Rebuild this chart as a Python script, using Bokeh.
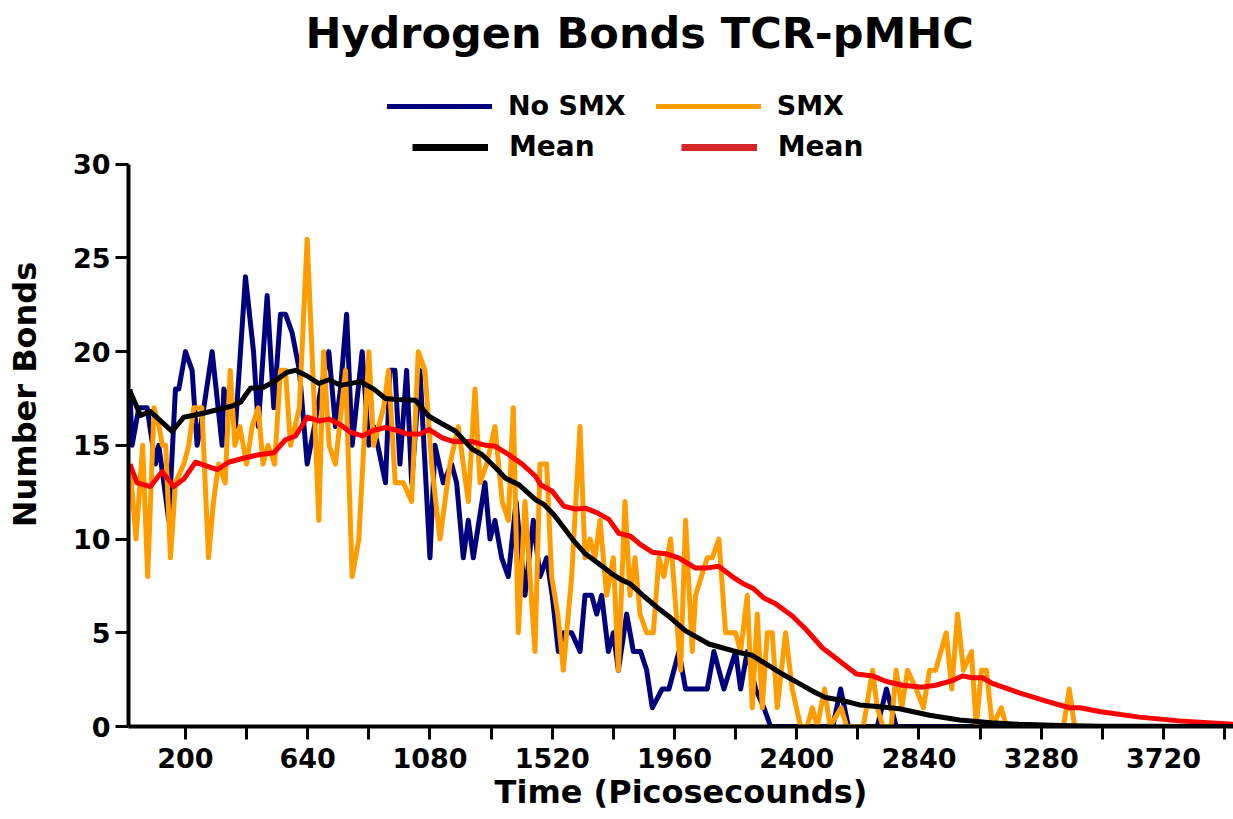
from bokeh.plotting import figure
from bokeh.models import Legend, LegendItem, FixedTicker, Range1d
from bokeh.embed import file_html
from bokeh.resources import INLINE

# ---------------- data ----------------
no_smx_t = [0, 8, 32, 62, 92, 104, 140, 164, 176, 200,
            224, 242, 266, 296, 332, 338, 380, 416, 445, 462,
            494, 518, 542, 560, 584, 610, 638, 664, 687, 716,
            740, 758, 780, 800, 836, 860, 878, 920, 936, 954,
            972, 996, 1014, 1044, 1080, 1098, 1128, 1158, 1176, 1200,
            1218, 1236, 1278, 1296, 1314, 1338, 1362, 1390, 1422, 1452,
            1476, 1500, 1520, 1542, 1560, 1590, 1620, 1638, 1662, 1680,
            1698, 1722, 1740, 1758, 1788, 1812, 1838, 1860, 1880, 1916,
            1940, 1976, 2000, 2078, 2102, 2138, 2180, 2198, 2222, 2252,
            2282, 2306, 2530, 2558, 2586, 2690, 2723, 2758, 3140]
no_smx_v = [18, 15, 17, 17, 14, 15, 11, 18, 18, 20,
            19, 15, 17, 20, 15, 18, 16, 24, 20, 16,
            23, 17, 22, 22, 21, 19, 14, 16, 18, 20,
            16, 18, 22, 15, 20, 15, 16, 13, 19, 19,
            14, 19, 13, 19, 9, 15, 13, 14, 13, 9,
            11, 9, 13, 10, 11, 9, 8, 12, 7, 11,
            8, 9, 7, 4, 5, 5, 4, 7, 7, 6,
            7, 4, 5, 3, 6, 4, 4, 3, 1, 2,
            2, 4, 2, 2, 4, 2, 4, 2, 4, 2,
            1, 0, 0, 2, 0, 0, 2, 0, 0]

smx_t = [0, 22, 46, 64, 87, 105, 117, 129, 146, 164,
         194, 212, 230, 259, 283, 301, 319, 343, 361, 378,
         396, 420, 440, 462, 479, 497, 521, 542, 560, 578,
         610, 638, 664, 680, 697, 717, 740, 776, 800, 824,
         860, 877, 913, 931, 955, 984, 1014, 1038, 1062, 1086,
         1116, 1152, 1182, 1218, 1242, 1260, 1284, 1314, 1340, 1362,
         1380, 1398, 1422, 1458, 1476, 1500, 1518, 1540, 1560, 1590,
         1620, 1638, 1656, 1674, 1692, 1716, 1740, 1758, 1782, 1800,
         1818, 1836, 1860, 1884, 1904, 1922, 1946, 1982, 2000, 2024,
         2036, 2078, 2096, 2120, 2144, 2180, 2198, 2222, 2240, 2258,
         2276, 2294, 2312, 2330, 2360, 2384, 2414, 2438, 2456, 2474,
         2500, 2520, 2560, 2580, 2640, 2673, 2690, 2710, 2740, 2758,
         2778, 2799, 2830, 2856, 2878, 2900, 2938, 2958, 2979, 3000,
         3029, 3046, 3065, 3083, 3104, 3136, 3155, 3360, 3381, 3400]
smx_v = [14, 10, 15, 8, 17, 16, 15, 15, 9, 13,
         14, 15, 17, 17, 9, 12, 14, 13, 19, 15,
         16, 14, 16, 17, 14, 15, 14, 19, 19, 15,
         17, 26, 17, 11, 20, 15, 14, 19, 8, 10,
         20, 15, 17, 19, 13, 13, 12, 20, 19, 14,
         10, 14, 16, 12, 18, 13, 14, 16, 12, 11,
         17, 5, 12, 4, 14, 14, 8, 6, 3, 8,
         16, 9, 10, 9, 11, 7, 9, 3, 12, 7,
         9, 6, 5, 5, 9, 8, 10, 3, 11, 4,
         7, 9, 9, 10, 5, 5, 4, 7, 1, 6,
         1, 5, 5, 1, 5, 2, 0, 0, 1, 0,
         2, 0, 1, 0, 0, 3, 1, 0, 0, 3,
         1, 3, 2, 1, 3, 3, 5, 2, 6, 3,
         4, 0, 3, 3, 0, 1, 0, 0, 2, 0]

mean_no_smx_t = [0, 38, 74, 152, 194, 260, 368, 398, 434, 481,
                 518, 566, 596, 638, 680, 716, 758, 830, 878, 920,
                 962, 1028, 1076, 1130, 1172, 1232, 1268, 1316, 1352, 1400,
                 1460, 1490, 1526, 1562, 1598, 1640, 1682, 1730, 1766, 1802,
                 1850, 1898, 1946, 2000, 2084, 2132, 2192, 2240, 2288, 2348,
                 2408, 2468, 2504, 2561, 2626, 2700, 2770, 2878, 2986, 3100,
                 3200, 3350, 3500, 3700, 3972]
mean_no_smx_v = [17.9, 16.6, 16.8, 15.75, 16.5, 16.7, 17.1, 17.3, 18.05, 18.1,
                 18.4, 18.9, 19.0, 18.7, 18.3, 18.5, 18.2, 18.4, 18.0, 17.5,
                 17.45, 17.4, 16.55, 16.1, 15.75, 14.8, 14.5, 13.8, 13.25, 12.9,
                 12.1, 11.85, 11.3, 10.6, 9.9, 9.2, 8.75, 8.2, 7.85, 7.6,
                 6.95, 6.35, 5.8, 5.1, 4.4, 4.2, 3.95, 3.8, 3.35, 2.8,
                 2.3, 1.8, 1.55, 1.4, 1.15, 1.05, 0.95, 0.6, 0.35, 0.2,
                 0.12, 0.05, 0.02, 0.01, 0.0]

mean_smx_t = [0, 26, 74, 116, 158, 194, 236, 314, 355, 404,
              464, 518, 560, 596, 638, 680, 716, 758, 794, 836,
              878, 920, 962, 998, 1046, 1076, 1124, 1166, 1232, 1280,
              1316, 1364, 1412, 1460, 1478, 1520, 1562, 1604, 1640, 1682,
              1724, 1760, 1802, 1838, 1880, 1934, 1975, 2036, 2072, 2119,
              2168, 2210, 2245, 2282, 2324, 2384, 2432, 2492, 2554, 2615,
              2673, 2723, 2780, 2853, 2900, 2960, 2996, 3032, 3068, 3104,
              3201, 3298, 3381, 3420, 3489, 3633, 3777, 3972]
mean_smx_v = [14.0, 13.0, 12.8, 13.6, 12.8, 13.2, 14.1, 13.7, 14.1, 14.3,
              14.5, 14.6, 15.3, 15.5, 16.5, 16.3, 16.4, 16.1, 15.7, 15.5,
              15.8, 15.95, 15.8, 15.6, 15.6, 15.85, 15.4, 15.2, 15.2, 15.0,
              14.95, 14.5, 14.0, 13.35, 12.9, 12.55, 11.75, 11.6, 11.65, 11.4,
              11.05, 10.3, 10.15, 9.7, 9.3, 9.2, 9.0, 8.45, 8.45, 8.55,
              8.0, 7.6, 7.35, 6.85, 6.55, 5.9, 5.2, 4.2, 3.5, 2.8,
              2.7, 2.4, 2.2, 2.1, 2.2, 2.45, 2.7, 2.6, 2.6, 2.3,
              1.8, 1.35, 1.0, 1.0, 0.8, 0.5, 0.3, 0.12]

x_ticks = [200 + 220 * i for i in range(18)]
x_tick_labels = [str(t) if i % 2 == 0 else "" for i, t in enumerate(x_ticks)]
y_ticks = [0, 5, 10, 15, 20, 25, 30]

# ---------------- styling ----------------
FONT = "DejaVu Sans"
NAVY = "#00007f"
ORANGE = "#ff9c00"
RED = "#ff0000"
LEG_RED = "#d62728"

FRAME_TOP = 60        # frame spans y = 60 .. 726 px; value 30 sits at y = 162
PX_PER_UNIT = 18.8
Y_TOP = (726 - FRAME_TOP) / PX_PER_UNIT

p = figure(width=1233, height=819, output_backend="svg", toolbar_location=None,
           x_range=Range1d(-5, 3972), y_range=Range1d(0, Y_TOP),
           min_border_left=128, min_border_right=0, min_border_bottom=93,
           min_border_top=FRAME_TOP)
p.background_fill_color = "white"
p.border_fill_color = "white"
p.outline_line_color = None
p.grid.visible = False

p.title.text = "Hydrogen Bonds TCR-pMHC"
p.title.text_font = FONT
p.title.text_font_size = "43px"
p.title.text_font_style = "bold"
p.title.text_color = "black"
p.title.align = "left"
p.title.offset = 177

r_no = p.line(no_smx_t, no_smx_v, line_color=NAVY, line_width=5, line_join="round")
r_smx = p.line(smx_t, smx_v, line_color=ORANGE, line_width=5, line_join="round")
r_msmx = p.line(mean_smx_t, mean_smx_v, line_color=RED, line_width=5, line_join="round")
r_mno = p.line(mean_no_smx_t, mean_no_smx_v, line_color="black", line_width=5, line_join="round")

# hidden renderers that only supply the legend swatches
g_no = p.line(no_smx_t, no_smx_v, line_color=NAVY, line_width=5, line_cap="round", visible=False)
g_smx = p.line(smx_t, smx_v, line_color=ORANGE, line_width=5, line_cap="round", visible=False)
g_mno = p.line(mean_no_smx_t, mean_no_smx_v, line_color="black", line_width=7, visible=False)
g_msmx = p.line(mean_smx_t, mean_smx_v, line_color=LEG_RED, line_width=7, visible=False)


def make_legend(items, glyph_w, standoff, spacing, loc, size):
    return Legend(items=items, orientation="horizontal", location=loc,
                  glyph_width=glyph_w, glyph_height=20, label_standoff=standoff,
                  spacing=spacing, padding=0, margin=0,
                  label_text_font=FONT, label_text_font_size=size,
                  label_text_font_style="bold", label_text_color="black",
                  border_line_color=None, background_fill_alpha=0,
                  inactive_fill_alpha=0, click_policy="none")


# legend rows (screen offsets from the frame's bottom-left corner)
leg1 = make_legend([LegendItem(label="No SMX", renderers=[g_no]),
                    LegendItem(label="SMX", renderers=[g_smx])],
                   105, 16, 30, (387 - 128, 726 - 89 - 32), "27px")
leg2 = make_legend([LegendItem(label="Mean", renderers=[g_mno]),
                    LegendItem(label="Mean", renderers=[g_msmx])],
                   76, 21, 86, (412 - 128, 726 - 131 - 32), "28px")
p.add_layout(leg1, "center")
p.add_layout(leg2, "center")

for ax in (p.xaxis[0], p.yaxis[0]):
    ax.axis_line_width = 4
    ax.axis_line_color = "black"
    ax.major_tick_line_width = 3
    ax.major_tick_line_color = "black"
    ax.major_tick_out = 13
    ax.major_tick_in = 0
    ax.minor_tick_line_color = None
    ax.major_label_text_font = FONT
    ax.major_label_text_font_size = "27px"
    ax.major_label_text_font_style = "bold"
    ax.major_label_text_color = "black"
    ax.axis_label_text_font = FONT
    ax.axis_label_text_font_size = "32px"
    ax.axis_label_text_font_style = "bold"
    ax.axis_label_text_color = "black"

p.xaxis.ticker = FixedTicker(ticks=x_ticks)
p.xaxis.major_label_overrides = {t: lab for t, lab in zip(x_ticks, x_tick_labels)}
p.xaxis.axis_label = "Time (Picosecounds)"
p.xaxis.major_label_standoff = 8
p.xaxis.axis_label_standoff = 2

p.yaxis.ticker = FixedTicker(ticks=y_ticks)
p.yaxis.bounds = (0, 30)
p.yaxis.axis_label = "Number Bonds"
p.yaxis.major_label_standoff = 5
p.yaxis.axis_label_standoff = 26

open("out.html", "w").write(file_html(p, INLINE))
